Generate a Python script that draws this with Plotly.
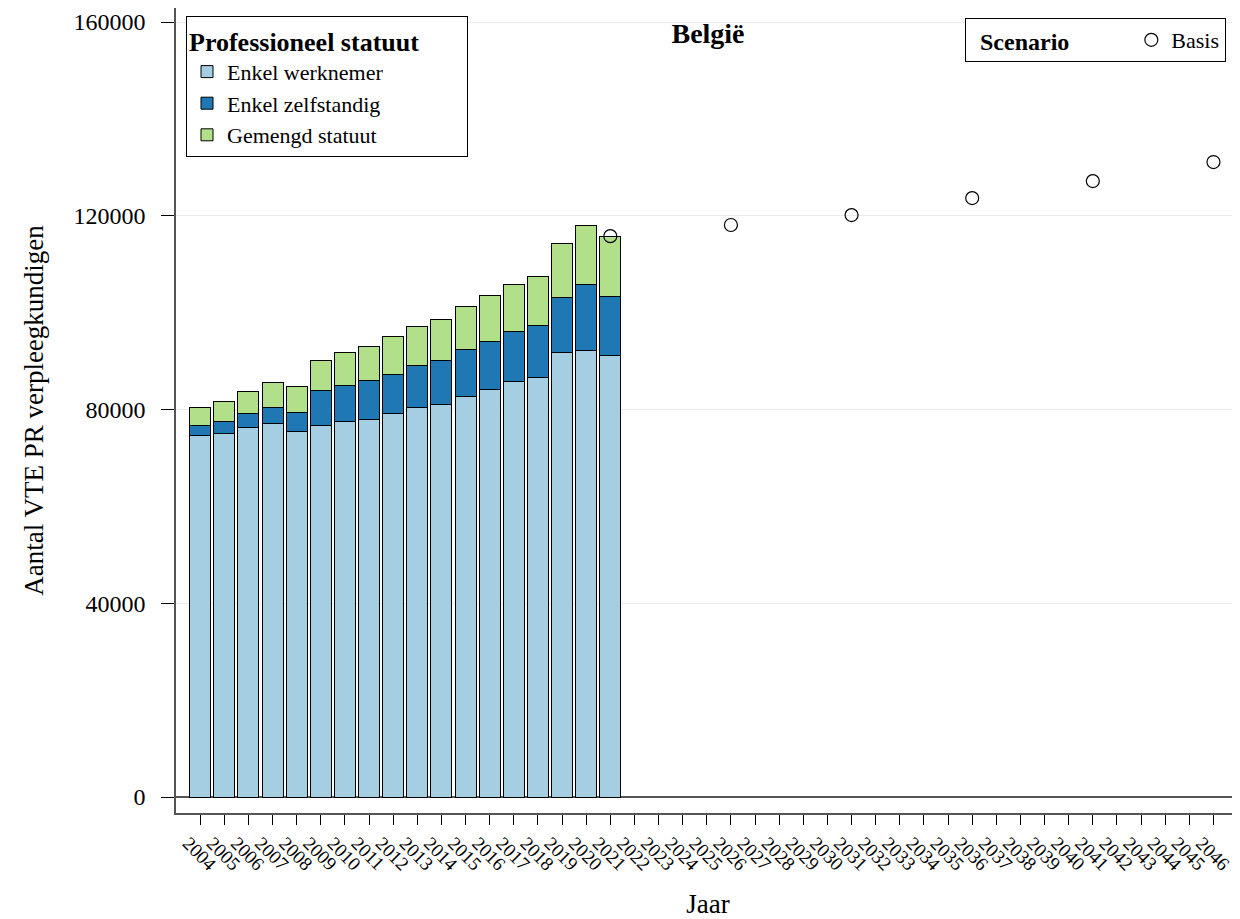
import plotly.graph_objects as go

years_all = [str(y) for y in range(2004, 2047)]
years_hist = [str(y) for y in range(2004, 2022)]

werknemer = [74600, 75100, 76300, 77100, 75500, 76700, 77500, 78000, 79100,
             80400, 81100, 82600, 84100, 85700, 86600, 91700, 92100, 91100]
zelfstandig = [2050, 2460, 2900, 3400, 3800, 7200, 7550, 7900, 8200,
               8600, 9000, 9700, 10000, 10400, 10800, 11400, 13800, 12300]
gemengd = [3850, 4040, 4600, 5000, 5500, 6200, 6750, 7100, 7700,
           8100, 8400, 8900, 9400, 9800, 10100, 11100, 12100, 12400]

basis_years = ["2021", "2026", "2031", "2036", "2041", "2046"]
basis_values = [115800, 118100, 120150, 123660, 127170, 131100]

y_ticks = [0, 40000, 80000, 120000, 160000]

FONT = "Liberation Serif"
W, H = 1232, 911  # page body has an 8px margin

fig = go.Figure()
series = [("Enkel werknemer", werknemer, "#a6cee3"),
          ("Enkel zelfstandig", zelfstandig, "#1f78b4"),
          ("Gemengd statuut", gemengd, "#b2df8a")]
for name, vals, col in series:
    fig.add_trace(go.Bar(x=years_hist, y=vals, name=name, marker_color=col,
                         marker_line=dict(color="black", width=1),
                         legend="legend"))

fig.add_trace(go.Scatter(x=basis_years, y=basis_values, mode="markers", name="Basis",
                         marker=dict(symbol="circle-open", size=13,
                                     color="black", line=dict(width=1.2, color="black")),
                         legend="legend2"))

NB = "\u00a0"
fig.update_layout(
    width=W, height=H,
    barmode="stack", bargap=0.13,
    plot_bgcolor="white", paper_bgcolor="white",
    font=dict(family=FONT, size=22, color="black"),
    margin=dict(l=168, r=0, t=0, b=106),
    title=dict(text="<b>België</b>", x=0.5, xref="paper", xanchor="center",
               y=1 - 25 / H, yanchor="middle", font=dict(size=28)),
    xaxis=dict(type="category", categoryorder="array", categoryarray=years_all,
               range=[-1.0, 43.1], tickangle=45, ticks="outside", ticklen=10,
               tickcolor="black", showline=True, linecolor="#555", linewidth=1.5,
               showgrid=False, tickfont=dict(size=19), ticklabelshift=-12,
               automargin=False,
               title=dict(text="Jaar", font=dict(size=27), standoff=22)),
    yaxis=dict(range=[-3300, 162900], tickvals=y_ticks, tickformat="d",
               ticks="outside", ticklen=13,
               tickcolor="black", showline=True, linecolor="#555", linewidth=1.5,
               showgrid=True, gridcolor="#ececec", zeroline=True,
               zerolinecolor="#555", zerolinewidth=1.5, tickfont=dict(size=24),
               ticklabelstandoff=11, automargin=False,
               title=dict(text="Aantal VTE PR verpleegkundigen", font=dict(size=27),
                          standoff=22)),
    legend=dict(x=10 / 1064, y=(805 - 8) / 805, xanchor="left", yanchor="top",
                bordercolor="black", borderwidth=1, bgcolor="white",
                title=dict(text="<b>Professioneel statuut</b>" + NB * 7,
                           font=dict(size=26)),
                font=dict(size=22), traceorder="normal", tracegroupgap=0),
    legend2=dict(x=1050 / 1064, y=(805 - 10) / 805, xanchor="right", yanchor="top",
                 orientation="h", bordercolor="black", borderwidth=1, bgcolor="white",
                 title=dict(text=NB * 2 + "<b>Scenario</b>" + NB * 9,
                            font=dict(size=24)),
                 font=dict(size=22)),
)

fig.write_html("out.html")
